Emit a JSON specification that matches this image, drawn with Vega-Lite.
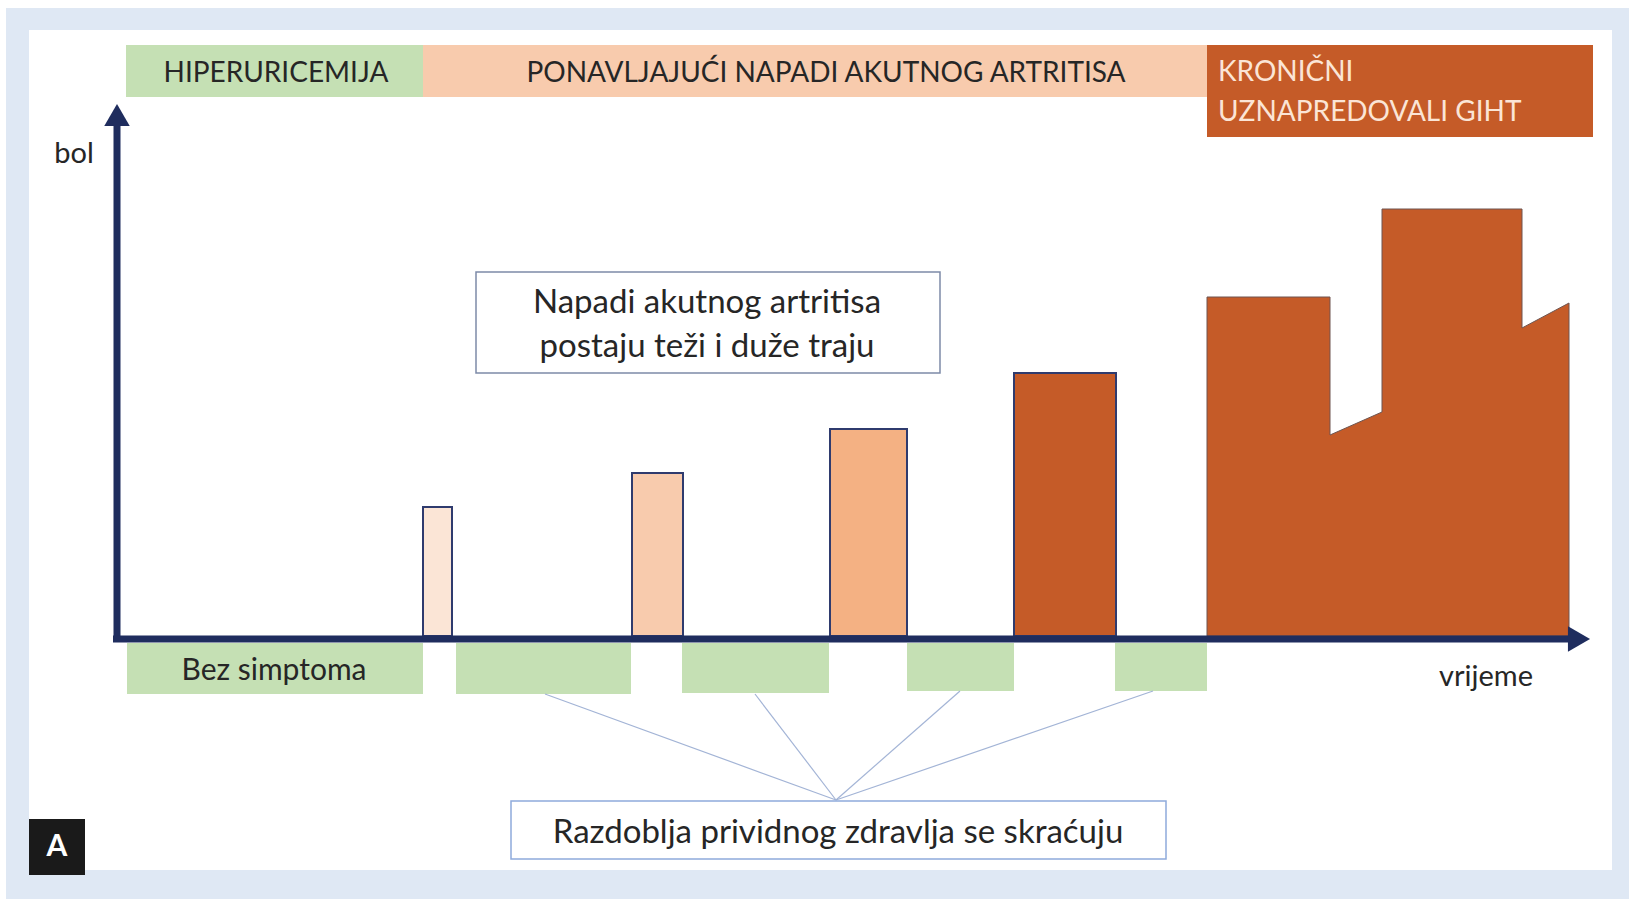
{
  "$schema": "https://vega.github.io/schema/vega-lite/v6.json",
  "width": 1629,
  "height": 899,
  "autosize": {"type": "fit", "contains": "padding"},
  "padding": 0,
  "background": "#ffffff",
  "config": {"view": {"stroke": null}, "font": "Lato", "text": {"font": "Lato"}},
  "encoding": {
    "x": {"field": "t", "type": "quantitative", "scale": {"domain": [-117, 1512], "nice": false, "zero": false}, "axis": null},
    "y": {"field": "p", "type": "quantitative", "scale": {"domain": [-263, 636], "nice": false, "zero": false}, "axis": null}
  },
  "layer": [
    {
      "data": {"values": [{"t": -111, "t2": 1512, "p": 628, "p2": -263}]},
      "mark": {"type": "rect", "color": "#dfe8f4"},
      "encoding": {"x2": {"field": "t2"}, "y2": {"field": "p2"}}
    },
    {
      "data": {"values": [{"t": -88, "t2": 1495, "p": 606, "p2": -234}]},
      "mark": {"type": "rect", "color": "#ffffff"},
      "encoding": {"x2": {"field": "t2"}, "y2": {"field": "p2"}}
    },
    {
      "data": {"values": [
        {"faza": "HIPERURICEMIJA", "t": 9, "t2": 306, "p": 591, "p2": 539},
        {"faza": "PONAVLJAJUĆI NAPADI AKUTNOG ARTRITISA", "t": 306, "t2": 1090, "p": 591, "p2": 539},
        {"faza": "KRONIČNI UZNAPREDOVALI GIHT", "t": 1090, "t2": 1476, "p": 591, "p2": 499}
      ]},
      "mark": {"type": "rect", "opacity": 1},
      "encoding": {
        "x2": {"field": "t2"}, "y2": {"field": "p2"},
        "fill": {"field": "faza", "type": "nominal", "legend": null,
          "scale": {"domain": ["HIPERURICEMIJA", "PONAVLJAJUĆI NAPADI AKUTNOG ARTRITISA", "KRONIČNI UZNAPREDOVALI GIHT"], "range": ["#c5e0b4", "#f8cbad", "#c55b28"]}}
      }
    },
    {
      "data": {"values": [
        {"tekst": "HIPERURICEMIJA", "t": 159, "p": 562},
        {"tekst": "PONAVLJAJUĆI NAPADI AKUTNOG ARTRITISA", "t": 709, "p": 562}
      ]},
      "mark": {"type": "text", "fontSize": 28, "color": "#262626", "align": "center", "baseline": "middle"},
      "encoding": {"text": {"field": "tekst"}}
    },
    {
      "data": {"values": [
        {"tekst": "KRONIČNI", "t": 1101, "p": 563},
        {"tekst": "UZNAPREDOVALI GIHT", "t": 1101, "p": 523}
      ]},
      "mark": {"type": "text", "fontSize": 28, "color": "#fbe5d6", "align": "left", "baseline": "middle"},
      "encoding": {"text": {"field": "tekst"}}
    },
    {
      "data": {"values": [
        {"t": 10, "t2": 306, "p": -7, "p2": -58},
        {"t": 339, "t2": 514, "p": -7, "p2": -58},
        {"t": 565, "t2": 712, "p": -7, "p2": -57},
        {"t": 790, "t2": 897, "p": -7, "p2": -55},
        {"t": 998, "t2": 1090, "p": -7, "p2": -55}
      ]},
      "mark": {"type": "rect", "color": "#c5e0b4"},
      "encoding": {"x2": {"field": "t2"}, "y2": {"field": "p2"}}
    },
    {
      "data": {"values": [
        {"napad": "1", "t": 306, "t2": 335, "p": 129, "p2": 0},
        {"napad": "2", "t": 515, "t2": 566, "p": 163, "p2": 0},
        {"napad": "3", "t": 713, "t2": 790, "p": 207, "p2": 0},
        {"napad": "4", "t": 897, "t2": 999, "p": 263, "p2": 0}
      ]},
      "mark": {"type": "rect", "stroke": "#2f3b6e", "strokeWidth": 2},
      "encoding": {
        "x2": {"field": "t2"}, "y2": {"field": "p2"},
        "fill": {"field": "napad", "type": "nominal", "legend": null,
          "scale": {"domain": ["1", "2", "3", "4"], "range": ["#fbe5d6", "#f8cbad", "#f4b183", "#c55b28"]}}
      }
    },
    {
      "data": {"values": [
        {"t": 1090, "p": 339},
        {"t": 1213, "p": 339},
        {"t": 1213, "p": 201},
        {"t": 1265, "p": 224},
        {"t": 1265, "p": 427},
        {"t": 1405, "p": 427},
        {"t": 1405, "p": 308},
        {"t": 1452, "p": 333}
      ]},
      "mark": {"type": "area", "color": "#c55b28", "stroke": "#6e5550", "strokeWidth": 1, "opacity": 1, "interpolate": "linear"},
      "encoding": {"y2": {"datum": 0}}
    },
    {
      "data": {"values": [
        {"t": 0, "p": -3, "t2": 0, "p2": 516},
        {"t": -4, "p": -3, "t2": 1458, "p2": -3}
      ]},
      "mark": {"type": "rule", "color": "#1f2d5e", "strokeWidth": 7},
      "encoding": {"x2": {"field": "t2"}, "y2": {"field": "p2"}}
    },
    {
      "data": {"values": [
        {"smjer": "gore", "t": 0, "p": 521},
        {"smjer": "desno", "t": 1462, "p": -3}
      ]},
      "mark": {"type": "point", "filled": true, "opacity": 1, "size": 650, "color": "#1f2d5e"},
      "encoding": {
        "shape": {"field": "smjer", "type": "nominal", "legend": null,
          "scale": {"domain": ["gore", "desno"], "range": ["triangle-up", "triangle-right"]}}
      }
    },
    {
      "data": {"values": [
        {"t": 428, "p": -58, "t2": 719, "p2": -164},
        {"t": 638, "p": -58, "t2": 719, "p2": -164},
        {"t": 843, "p": -55, "t2": 719, "p2": -164},
        {"t": 1036, "p": -55, "t2": 719, "p2": -164}
      ]},
      "mark": {"type": "rule", "color": "#a3b4d6", "strokeWidth": 1.2},
      "encoding": {"x2": {"field": "t2"}, "y2": {"field": "p2"}}
    },
    {
      "data": {"values": [{"t": 359, "t2": 823, "p": 364, "p2": 263}]},
      "mark": {"type": "rect", "fill": "#ffffff", "stroke": "#7d8aa8", "strokeWidth": 1.5},
      "encoding": {"x2": {"field": "t2"}, "y2": {"field": "p2"}}
    },
    {
      "data": {"values": [{"t": 394, "t2": 1049, "p": -165, "p2": -223}]},
      "mark": {"type": "rect", "fill": "#ffffff", "stroke": "#8faadc", "strokeWidth": 1.5},
      "encoding": {"x2": {"field": "t2"}, "y2": {"field": "p2"}}
    },
    {
      "data": {"values": [
        {"tekst": "bol", "t": -43, "p": 482},
        {"tekst": "vrijeme", "t": 1369, "p": -41}
      ]},
      "mark": {"type": "text", "fontSize": 29, "color": "#262626", "align": "center", "baseline": "middle"},
      "encoding": {"text": {"field": "tekst"}}
    },
    {
      "data": {"values": [
        {"tekst": "Bez simptoma", "t": 157, "p": -35}
      ]},
      "mark": {"type": "text", "fontSize": 30, "color": "#262626", "align": "center", "baseline": "middle"},
      "encoding": {"text": {"field": "tekst"}}
    },
    {
      "data": {"values": [
        {"tekst": "Napadi akutnog artritisa", "t": 590, "p": 333},
        {"tekst": "postaju teži i duže traju", "t": 590, "p": 289},
        {"tekst": "Razdoblja prividnog zdravlja se skraćuju", "t": 721, "p": -197}
      ]},
      "mark": {"type": "text", "fontSize": 33, "color": "#262626", "align": "center", "baseline": "middle"},
      "encoding": {"text": {"field": "tekst"}}
    },
    {
      "data": {"values": [{"t": -88, "t2": -32, "p": -183, "p2": -239}]},
      "mark": {"type": "rect", "color": "#1a1a1a"},
      "encoding": {"x2": {"field": "t2"}, "y2": {"field": "p2"}}
    },
    {
      "data": {"values": [{"tekst": "A", "t": -60, "p": -211}]},
      "mark": {"type": "text", "fontSize": 30, "fontWeight": "bold", "color": "#ffffff", "align": "center", "baseline": "middle"},
      "encoding": {"text": {"field": "tekst"}}
    }
  ],
  "resolve": {"scale": {"fill": "independent", "shape": "independent"}}
}
